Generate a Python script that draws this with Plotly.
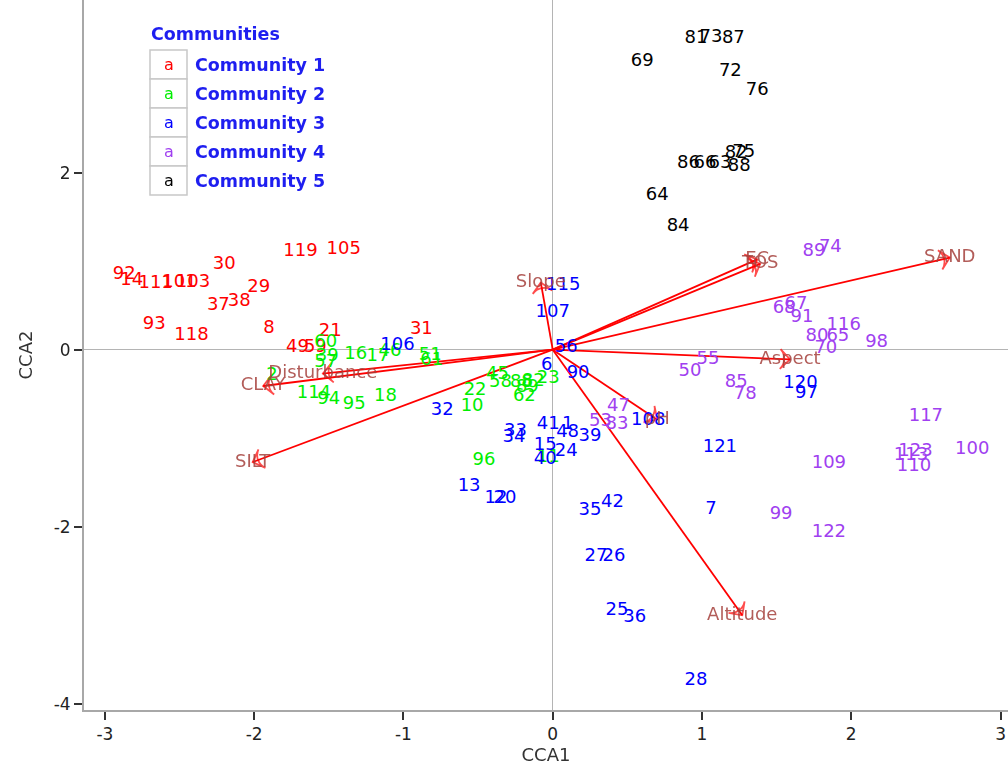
import plotly.graph_objects as go

# ---- site scores (CCA1, CCA2) by community ----
c1_labels = ["92", "14", "111", "101", "103", "30", "29", "37", "38", "93", "118", "8", "21", "31", "119", "105", "49", "59"]
c1_x = [-2.87, -2.82, -2.66, -2.50, -2.41, -2.20, -1.97, -2.24, -2.10, -2.67, -2.42, -1.90, -1.49, -0.88, -1.69, -1.40, -1.71, -1.59]
c1_y = [0.85, 0.78, 0.75, 0.76, 0.76, 0.96, 0.70, 0.50, 0.54, 0.29, 0.16, 0.24, 0.20, 0.23, 1.11, 1.13, 0.03, 0.02]

c2_labels = ["60", "39", "57", "16", "17", "46", "51", "61", "2", "114", "94", "95", "18", "22", "10", "45", "58", "88", "82", "89", "62", "23", "96", "11"]
c2_x = [-1.52, -1.51, -1.52, -1.32, -1.17, -1.09, -0.82, -0.81, -1.88, -1.60, -1.50, -1.33, -1.12, -0.52, -0.54, -0.37, -0.35, -0.21, -0.13, -0.17, -0.19, -0.03, -0.46, -0.03]
c2_y = [0.08, -0.08, -0.15, -0.05, -0.08, -0.02, -0.07, -0.12, -0.29, -0.49, -0.56, -0.62, -0.53, -0.46, -0.64, -0.28, -0.37, -0.37, -0.36, -0.43, -0.53, -0.32, -1.25, -1.22]

c3_labels = ["106", "32", "6", "90", "107", "115", "56", "13", "12", "20", "33", "34", "41", "1", "48", "39", "15", "24", "40", "35", "42", "27", "26", "25", "36", "28", "7", "121", "120", "97", "108"]
c3_x = [-1.04, -0.74, -0.04, 0.17, 0.00, 0.07, 0.09, -0.56, -0.38, -0.32, -0.25, -0.26, -0.03, 0.10, 0.10, 0.25, -0.05, 0.09, -0.05, 0.25, 0.40, 0.29, 0.41, 0.43, 0.55, 0.96, 1.06, 1.12, 1.66, 1.70, 0.64]
c3_y = [0.05, -0.69, -0.18, -0.27, 0.42, 0.73, 0.02, -1.55, -1.68, -1.68, -0.92, -0.99, -0.84, -0.85, -0.93, -0.98, -1.08, -1.15, -1.24, -1.82, -1.73, -2.34, -2.34, -2.95, -3.03, -3.74, -1.80, -1.10, -0.38, -0.50, -0.80]

c4_labels = ["47", "53", "83", "55", "50", "85", "78", "89", "74", "68", "67", "91", "116", "80", "65", "70", "98", "117", "100", "123", "113", "110", "109", "99", "122"]
c4_x = [0.44, 0.32, 0.43, 1.04, 0.92, 1.23, 1.29, 1.75, 1.86, 1.55, 1.63, 1.67, 1.95, 1.77, 1.91, 1.83, 2.17, 2.50, 2.81, 2.43, 2.40, 2.42, 1.85, 1.53, 1.85]
c4_y = [-0.64, -0.81, -0.84, -0.11, -0.25, -0.37, -0.51, 1.11, 1.16, 0.47, 0.51, 0.36, 0.27, 0.15, 0.15, 0.01, 0.08, -0.75, -1.13, -1.15, -1.19, -1.32, -1.28, -1.86, -2.07]

c5_labels = ["81", "73", "87", "69", "72", "76", "86", "66", "63", "88", "82", "75", "64", "84"]
c5_x = [0.96, 1.06, 1.21, 0.60, 1.19, 1.37, 0.91, 1.02, 1.12, 1.25, 1.23, 1.28, 0.70, 0.84]
c5_y = [3.51, 3.53, 3.51, 3.25, 3.14, 2.93, 2.10, 2.10, 2.10, 2.07, 2.22, 2.23, 1.74, 1.39]

# ---- environmental vectors (biplot arrow tips) ----
env_names = ["SAND", "EC", "TOS", "Slope", "Aspect", "pH", "Altitude", "SILT", "CLAY", "Disturbance"]
env_x = [2.66, 1.37, 1.39, -0.08, 1.59, 0.70, 1.27, -2.01, -1.94, -1.54]
env_y = [1.04, 1.02, 0.97, 0.76, -0.11, -0.79, -3.00, -1.27, -0.41, -0.27]

communities = ["Community 1", "Community 2", "Community 3", "Community 4", "Community 5"]
comm_colors = ["#FF0000", "#00EE00", "#0000FF", "#A040F0", "#000000"]

FONT = "DejaVu Sans, Verdana, sans-serif"
ARROW = "#FF0000"
ENV_TXT = "#A5403C"
KEY_BLUE = "#1E1EF0"

fig = go.Figure()

# arrows from the origin to each vector tip
for ex, ey in zip(env_x, env_y):
    fig.add_trace(go.Scatter(
        x=[0, ex], y=[0, ey], mode="lines+markers",
        line=dict(color=ARROW, width=1.8),
        marker=dict(symbol=["circle", "arrow-wide-open"], size=[0, 14],
                    angleref="previous", color=ARROW,
                    line=dict(color=ARROW, width=1.8)),
        hoverinfo="skip", showlegend=False))

# site labels
groups = [(c1_labels, c1_x, c1_y), (c2_labels, c2_x, c2_y), (c3_labels, c3_x, c3_y),
          (c4_labels, c4_x, c4_y), (c5_labels, c5_x, c5_y)]
for (lab, xs, ys), name, col in zip(groups, communities, comm_colors):
    fig.add_trace(go.Scatter(
        x=xs, y=ys, mode="text", text=lab, textposition="middle center",
        textfont=dict(family=FONT, size=18, color=col),
        name=name, showlegend=False))

# vector labels at the tips
fig.add_trace(go.Scatter(
    x=env_x, y=env_y, mode="text", text=env_names, textposition="middle center",
    textfont=dict(family=FONT, size=18, color=ENV_TXT), opacity=0.85,
    showlegend=False))

# plot area geometry (pixels) for the hand-made key
L, T, W, H = 84, 0, 924, 710
def px(xp):
    return (xp - L) / W
def py(yp):
    return (T + H - yp) / H

shapes = []
annotations = []
annotations.append(dict(x=px(149), y=py(34), xref="paper", yref="paper", text="<b>Communities</b>",
                        showarrow=False, xanchor="left", yanchor="middle",
                        font=dict(family=FONT, size=17.5, color=KEY_BLUE)))
row_h = 29
top = 50
for i, (name, col) in enumerate(zip(communities, comm_colors)):
    y0 = top + i * row_h
    shapes.append(dict(type="rect", xref="paper", yref="paper",
                       x0=px(150), x1=px(187), y0=py(y0), y1=py(y0 + row_h),
                       line=dict(color="#C8C8C8", width=1.5), fillcolor="white"))
    annotations.append(dict(x=px(168.5), y=py(y0 + row_h / 2), xref="paper", yref="paper",
                            text="a", showarrow=False, xanchor="center", yanchor="middle",
                            font=dict(family=FONT, size=16, color=col)))
    annotations.append(dict(x=px(193), y=py(y0 + row_h / 2), xref="paper", yref="paper",
                            text="<b>" + name + "</b>", showarrow=False,
                            xanchor="left", yanchor="middle",
                            font=dict(family=FONT, size=17.5, color=KEY_BLUE)))

axis_common = dict(showgrid=False, showline=True, linecolor="#A8A8A8", linewidth=2,
                   ticks="outside", ticklen=8, tickwidth=2, tickcolor="#333333",
                   zeroline=True, zerolinecolor="#B4B4B4", zerolinewidth=1,
                   tickfont=dict(family=FONT, size=17, color="#222222"),
                   mirror=False)

x_ticks = [-3, -2, -1, 0, 1, 2, 3]
y_ticks = [-4, -2, 0, 2]

fig.update_layout(
    width=1008, height=772,
    margin=dict(l=L, r=0, t=T, b=772 - H),
    plot_bgcolor="white", paper_bgcolor="white",
    shapes=shapes, annotations=annotations,
    xaxis=dict(range=[-3.14, 3.05], tickvals=x_ticks, ticktext=[str(v) for v in x_ticks],
               title=dict(text="CCA1", font=dict(family=FONT, size=18, color="#333333"), standoff=4),
               **axis_common),
    yaxis=dict(range=[-4.07, 3.95], tickvals=y_ticks, ticktext=[str(v) for v in y_ticks],
               title=dict(text="CCA2", font=dict(family=FONT, size=18, color="#333333"), standoff=16),
               **axis_common),
)

fig.write_html("out.html")
